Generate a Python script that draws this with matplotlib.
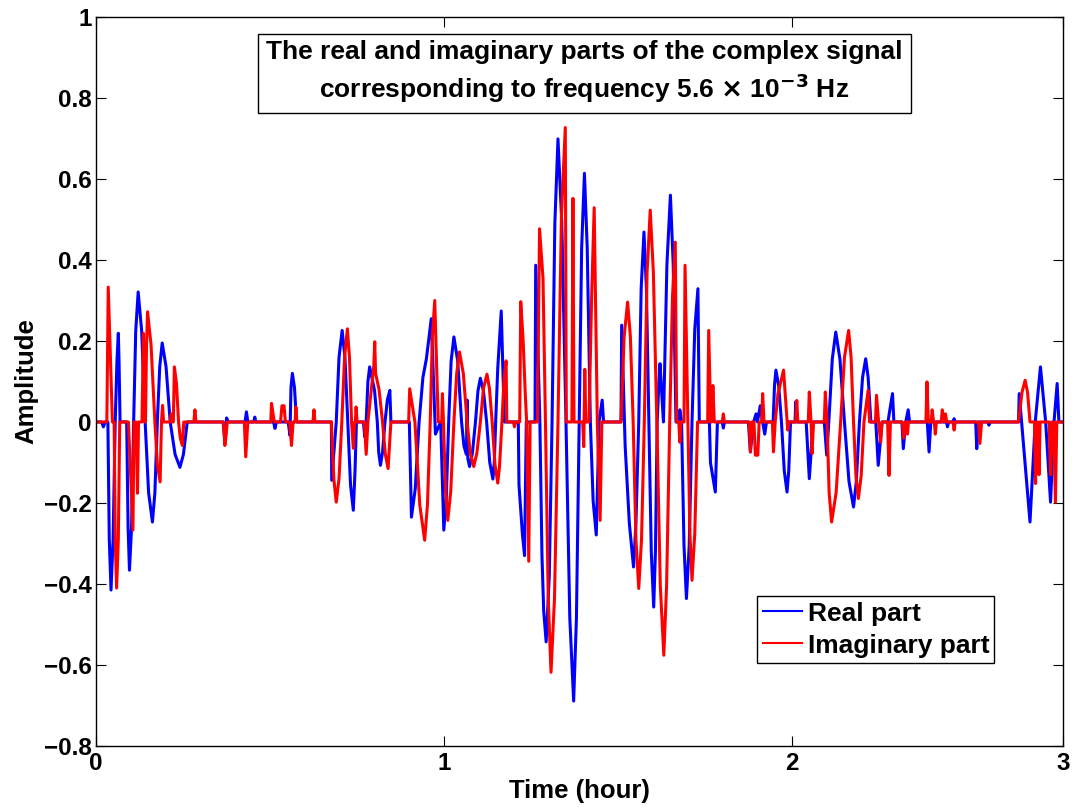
import matplotlib.pyplot as plt
import numpy as np

plt.rcParams['font.family'] = ['Liberation Sans', 'DejaVu Sans']
plt.rcParams['font.weight'] = 'bold'
plt.rcParams['mathtext.default'] = 'bf'

# Real part, (time in hours, amplitude)
real_pts = [
    (0, 0), (0.016, 0), (0.021, -0.012), (0.026, 0), (0.034, 0),
    (0.038, -0.29), (0.043, -0.415), (0.049, -0.29), (0.055, 0), (0.060, 0.15),
    (0.064, 0.219), (0.066, 0.15), (0.069, 0), (0.088, 0), (0.092, -0.26),
    (0.096, -0.366), (0.102, -0.26), (0.108, 0), (0.114, 0.225), (0.121, 0.321),
    (0.131, 0.225), (0.141, 0), (0.151, -0.175), (0.162, -0.247), (0.169, -0.175),
    (0.176, 0), (0.183, 0.137), (0.19, 0.195), (0.201, 0.137), (0.213, 0),
    (0.227, -0.08), (0.241, -0.112), (0.251, -0.08), (0.262, 0),
    (0.365, 0), (0.370, -0.045), (0.375, 0.01), (0.380, 0),
    (0.428, 0), (0.432, 0.025), (0.436, 0), (0.453, 0), (0.456, 0.012), (0.459, 0),
    (0.510, 0), (0.514, -0.016), (0.518, 0),
    (0.552, 0), (0.557, -0.033), (0.560, 0.085), (0.564, 0.12), (0.570, 0.085), (0.576, 0),
    (0.676, 0), (0.677, -0.144), (0.690, 0), (0.698, 0.16), (0.707, 0.226),
    (0.715, 0.16), (0.723, 0), (0.731, -0.155), (0.739, -0.218), (0.744, -0.12), (0.748, 0),
    (0.768, 0), (0.772, -0.037), (0.776, 0), (0.781, 0.1), (0.786, 0.136),
    (0.800, 0.078), (0.808, 0), (0.812, -0.075), (0.817, -0.107), (0.823, -0.075),
    (0.830, 0), (0.837, 0.055), (0.844, 0.078), (0.847, 0),
    (0.900, 0), (0.906, -0.235), (0.917, -0.165), (0.928, 0), (0.939, 0.11),
    (0.949, 0.156), (0.963, 0.255), (0.975, -0.03), (0.990, 0), (0.999, -0.267),
    (1.006, -0.19), (1.013, 0), (1.020, 0.15), (1.028, 0.21), (1.039, 0.15),
    (1.050, 0), (1.057, -0.06), (1.064, -0.08), (1.066, 0.054), (1.068, -0.09),
    (1.073, -0.11), (1.081, -0.078), (1.090, 0), (1.097, 0.076), (1.104, 0.108),
    (1.113, 0.076), (1.122, 0), (1.131, -0.1), (1.140, -0.141), (1.144, -0.1),
    (1.148, 0), (1.154, 0.133), (1.164, 0.274), (1.173, 0),
    (1.213, 0), (1.215, -0.156), (1.225, -0.279), (1.231, -0.33), (1.236, 0),
    (1.261, 0), (1.263, 0.387), (1.275, 0), (1.281, -0.33), (1.286, -0.467),
    (1.293, -0.543), (1.302, -0.38), (1.310, 0), (1.318, 0.49), (1.327, 0.699),
    (1.338, 0.49), (1.350, 0), (1.361, -0.485), (1.372, -0.689), (1.380, -0.485),
    (1.388, 0), (1.395, 0.43), (1.403, 0.614), (1.411, 0.43), (1.420, 0),
    (1.428, -0.195), (1.437, -0.279), (1.445, 0), (1.454, 0.054), (1.458, 0),
    (1.508, 0), (1.510, 0.239), (1.520, -0.06), (1.532, -0.25), (1.544, -0.358),
    (1.551, -0.25), (1.559, 0), (1.566, 0.33), (1.574, 0.469), (1.581, 0.33),
    (1.588, 0), (1.595, -0.32), (1.602, -0.457), (1.607, -0.32), (1.612, 0),
    (1.617, 0.1), (1.620, 0.144), (1.630, 0), (1.640, 0.39), (1.650, 0.56),
    (1.658, 0.39), (1.666, 0), (1.674, 0), (1.677, 0.03), (1.682, 0),
    (1.689, -0.305), (1.696, -0.436), (1.704, -0.305), (1.712, 0), (1.720, 0.23),
    (1.729, 0.329), (1.733, 0),
    (1.762, 0), (1.765, -0.1), (1.779, -0.173), (1.785, 0),
    (1.799, 0), (1.802, -0.015), (1.805, 0),
    (1.874, 0), (1.8795, -0.074), (1.889, 0), (1.896, 0.02), (1.900, 0),
    (1.908, 0.04), (1.915, 0), (1.921, -0.03), (1.926, 0),
    (1.945, 0), (1.949, 0.09), (1.953, 0.128), (1.961, 0.09), (1.969, 0),
    (1.977, -0.12), (1.985, -0.173), (1.990, -0.12), (1.995, 0),
    (2.008, 0), (2.010, 0.05), (2.013, 0), (2.040, 0), (2.049, -0.14), (2.060, 0),
    (2.092, 0), (2.099, -0.082), (2.105, 0), (2.115, 0.155), (2.125, 0.222),
    (2.137, 0.155), (2.150, 0), (2.163, -0.147), (2.176, -0.21), (2.184, -0.147),
    (2.193, 0), (2.202, 0.11), (2.211, 0.156), (2.218, 0.11), (2.226, 0),
    (2.240, 0), (2.247, -0.107), (2.258, 0), (2.275, 0), (2.278, 0.017),
    (2.288, 0.07), (2.292, 0), (2.315, 0), (2.319, -0.066), (2.326, 0),
    (2.333, 0.03), (2.337, 0), (2.388, 0), (2.393, -0.074), (2.398, 0),
    (2.443, 0), (2.446, -0.012), (2.449, 0), (2.462, 0), (2.465, 0.008), (2.468, 0),
    (2.527, 0), (2.530, -0.066), (2.535, 0), (2.562, 0), (2.565, -0.008), (2.568, 0),
    (2.650, 0), (2.652, 0.07), (2.683, -0.247), (2.698, 0), (2.713, 0.136),
    (2.728, 0), (2.742, -0.198), (2.752, 0), (2.761, 0.095), (2.766, 0), (2.778, 0),
]

# Imaginary part
imag_pts = [
    (0, 0), (0.031, 0), (0.035, 0.333), (0.047, 0), (0.052, 0), (0.055, -0.29),
    (0.059, -0.41), (0.064, -0.29), (0.068, 0), (0.093, 0), (0.106, -0.267),
    (0.109, 0), (0.115, 0), (0.119, -0.176), (0.122, 0), (0.132, 0),
    (0.136, 0.219), (0.140, 0), (0.142, 0), (0.145, 0.19), (0.148, 0.272),
    (0.158, 0.19), (0.169, 0), (0.176, -0.104), (0.184, -0.148), (0.188, 0),
    (0.191, 0.041), (0.194, 0), (0.213, 0), (0.216, 0.02), (0.219, 0),
    (0.222, 0), (0.225, 0.136), (0.231, 0.095), (0.237, 0), (0.242, -0.04),
    (0.248, -0.058), (0.252, 0), (0.281, 0), (0.284, 0.03), (0.287, 0),
    (0.366, 0), (0.370, -0.058), (0.374, -0.03), (0.377, 0),
    (0.426, 0), (0.430, -0.086), (0.436, 0), (0.502, 0), (0.504, 0.046), (0.512, 0),
    (0.530, 0), (0.534, 0.04), (0.540, 0.04), (0.544, 0),
    (0.556, 0), (0.5615, -0.058), (0.566, 0), (0.572, 0), (0.574, 0.037), (0.577, 0),
    (0.623, 0), (0.626, 0.03), (0.629, 0),
    (0.676, 0), (0.683, -0.14), (0.690, -0.198), (0.698, -0.14), (0.706, 0),
    (0.714, 0.16), (0.722, 0.23), (0.728, 0.16), (0.734, 0), (0.739, -0.065),
    (0.743, 0), (0.745, 0), (0.747, 0.037), (0.750, 0),
    (0.771, 0), (0.776, -0.08), (0.781, 0), (0.798, 0.14), (0.8006, 0.198),
    (0.803, 0.12), (0.813, 0.08), (0.823, 0), (0.831, -0.08), (0.839, -0.115),
    (0.847, 0),
    (0.898, 0), (0.901, 0.082), (0.916, 0), (0.930, -0.205), (0.944, -0.292),
    (0.952, -0.205), (0.960, 0), (0.966, 0.21), (0.973, 0.30), (0.983, 0),
    (0.993, 0), (0.995, 0.07), (0.998, 0), (1.004, -0.17), (1.0105, -0.243),
    (1.019, -0.17), (1.028, 0), (1.036, 0.12), (1.044, 0.173), (1.055, 0.12),
    (1.066, 0), (1.075, -0.077), (1.085, -0.11), (1.094, -0.077), (1.104, 0),
    (1.113, 0.083), (1.123, 0.118), (1.130, 0.083), (1.138, 0), (1.146, -0.105),
    (1.154, -0.151), (1.159, -0.11), (1.166, 0), (1.172, 0.105), (1.178, 0.151),
    (1.180, 0), (1.199, 0), (1.202, -0.012), (1.205, 0),
    (1.217, 0), (1.220, 0.297), (1.227, 0.2), (1.233, 0.07), (1.237, 0),
    (1.243, -0.344), (1.247, 0),
    (1.268, 0), (1.274, 0.477), (1.284, 0.355), (1.291, 0), (1.299, -0.435),
    (1.307, -0.618), (1.317, -0.435), (1.327, 0), (1.337, 0.51), (1.348, 0.727),
    (1.351, 0), (1.367, 0), (1.370, 0.552), (1.373, 0),
    (1.398, 0), (1.401, -0.061), (1.404, 0.13), (1.407, 0),
    (1.416, 0), (1.424, 0.32), (1.431, 0.529), (1.440, 0), (1.448, -0.243), (1.453, 0),
    (1.508, 0), (1.517, 0.21), (1.527, 0.296), (1.535, 0.21), (1.543, 0),
    (1.551, -0.29), (1.559, -0.411), (1.567, -0.29), (1.575, 0), (1.583, 0.37),
    (1.592, 0.523), (1.601, 0.37), (1.611, 0), (1.621, -0.405), (1.631, -0.576),
    (1.639, -0.405), (1.648, 0), (1.656, 0.31), (1.664, 0.444), (1.668, 0),
    (1.674, 0), (1.677, -0.05), (1.680, 0), (1.689, 0), (1.692, 0.387),
    (1.700, 0), (1.706, -0.275), (1.712, -0.391), (1.720, -0.275), (1.728, 0),
    (1.757, 0), (1.760, 0.226), (1.766, 0), (1.769, 0), (1.772, 0.09), (1.776, 0),
    (1.799, 0), (1.802, 0.02), (1.805, 0),
    (1.876, 0), (1.880, -0.074), (1.884, 0), (1.890, 0), (1.894, -0.082),
    (1.901, -0.082), (1.905, 0), (1.912, 0), (1.915, 0.07), (1.919, 0),
    (1.943, 0), (1.946, -0.074), (1.951, 0), (1.959, 0.07), (1.975, 0.128),
    (1.987, -0.02), (1.990, 0), (2.010, 0), (2.013, 0.053), (2.016, 0),
    (2.046, 0), (2.049, 0.074), (2.054, 0), (2.057, -0.078), (2.061, 0),
    (2.092, 0), (2.095, 0.074), (2.100, 0), (2.106, -0.175), (2.113, -0.247),
    (2.126, -0.175), (2.139, 0), (2.150, 0.16), (2.162, 0.226), (2.169, 0.16),
    (2.176, 0), (2.183, -0.133), (2.190, -0.189), (2.198, -0.133), (2.206, 0),
    (2.218, 0.078), (2.222, 0),
    (2.239, 0), (2.242, 0.066), (2.248, 0), (2.254, -0.05), (2.258, 0),
    (2.274, 0), (2.278, -0.132), (2.282, 0), (2.316, 0), (2.320, -0.04),
    (2.325, 0), (2.328, 0), (2.331, -0.03), (2.334, 0),
    (2.384, 0), (2.387, 0.099), (2.391, 0), (2.399, 0), (2.402, 0.03), (2.406, 0),
    (2.408, 0), (2.411, -0.03), (2.414, 0), (2.428, 0), (2.431, 0.03), (2.436, 0),
    (2.440, 0.02), (2.444, 0), (2.462, 0), (2.465, -0.02), (2.468, 0),
    (2.535, 0), (2.539, -0.053), (2.544, 0),
    (2.650, 0), (2.660, 0.073), (2.669, 0.103), (2.676, 0.073), (2.683, 0),
    (2.696, 0), (2.699, -0.152), (2.702, 0), (2.706, 0), (2.709, -0.13),
    (2.712, 0), (2.738, 0), (2.742, -0.13), (2.746, 0), (2.751, 0),
    (2.756, -0.198), (2.760, 0), (2.778, 0),
]

real_t, real_v = zip(*real_pts)
imag_t, imag_v = zip(*imag_pts)

t_end = 10000 / 3600  # axis ends at 10000 s, last tick is labelled 3
ytick_labels = ['\u22120.8', '\u22120.6', '\u22120.4', '\u22120.2', '0',
                '0.2', '0.4', '0.6', '0.8', '1']

fig = plt.figure(figsize=(10.72, 8.07), dpi=100)
ax = fig.add_axes([0.0896, 0.0756, 0.9020, 0.9034])

ax.plot(real_t, real_v, color=(0, 0, 1), lw=2.2, label='Real part')
ax.plot(imag_t, imag_v, color=(1, 0, 0), lw=2.2, label='Imaginary part')

ax.set_xlim(0, t_end)
ax.set_ylim(-0.8, 1)
ax.set_xticks([0, 1, 2, t_end])
ax.set_xticklabels(['0', '1', '2', '3'])
ax.set_yticks(np.arange(-0.8, 1.01, 0.2))
ax.set_yticklabels(ytick_labels)
ax.tick_params(direction='in', length=7, width=0.8, top=True, right=True,
               labelsize=17.5)
ax.tick_params(axis='y', pad=3)
ax.tick_params(axis='x', pad=4)
for s in ax.spines.values():
    s.set_linewidth(1.0)

ax.set_xlabel('Time (hour)', fontsize=18.5, fontweight='bold', labelpad=3)
ax.set_ylabel('Amplitude', fontsize=18.5, fontweight='bold', labelpad=4)

ax.text(0.505, 0.924,
        'The real and imaginary parts of the complex signal\n'
        'corresponding to frequency 5.6 $\\times$ 10$^{\\mathbf{-3}}$ Hz',
        transform=ax.transAxes, ha='center', va='center', ma='center',
        fontsize=19, fontweight='bold', linespacing=1.3,
        bbox=dict(boxstyle='square,pad=0.3', fc='white', ec='black', lw=1))

leg = ax.legend(loc='lower left', bbox_to_anchor=(0.684, 0.114),
                prop={'weight': 'bold', 'size': 19}, handlelength=1.5,
                handletextpad=0.2, borderpad=0.2, labelspacing=0.3,
                borderaxespad=0, fancybox=False, framealpha=1,
                edgecolor='black')
leg.get_frame().set_linewidth(1.0)
for line in leg.get_lines():
    line.set_linewidth(1.5)

fig.savefig('out.png', dpi=100)
